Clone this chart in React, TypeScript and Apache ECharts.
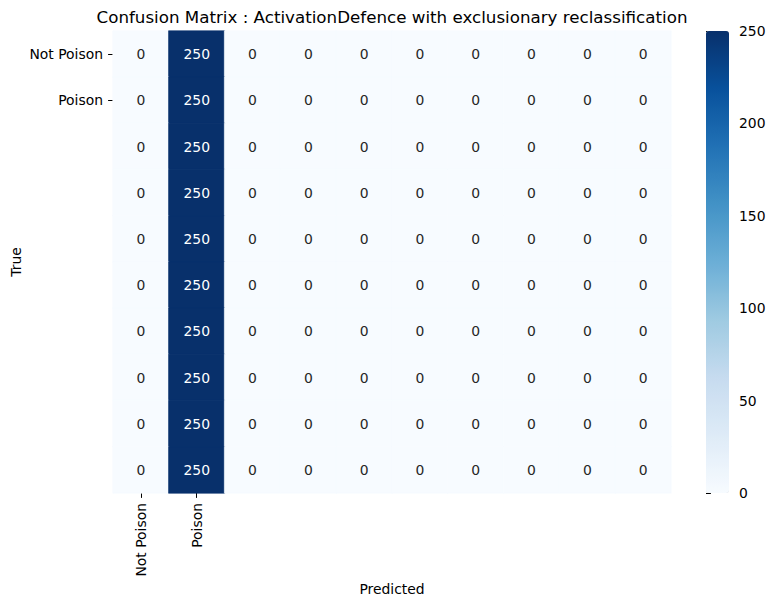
import React, { useEffect, useRef } from "react";
import * as echarts from "echarts";

const titleText = "Confusion Matrix : ActivationDefence with exclusionary reclassification";
const tickLabels = ["Not Poison", "Poison"];
const categories = ["Not Poison", "Poison", "c2", "c3", "c4", "c5", "c6", "c7", "c8", "c9"];
const row0 = [0, 250, 0, 0, 0, 0, 0, 0, 0, 0];
const row1 = [0, 250, 0, 0, 0, 0, 0, 0, 0, 0];
const row2 = [0, 250, 0, 0, 0, 0, 0, 0, 0, 0];
const row3 = [0, 250, 0, 0, 0, 0, 0, 0, 0, 0];
const row4 = [0, 250, 0, 0, 0, 0, 0, 0, 0, 0];
const row5 = [0, 250, 0, 0, 0, 0, 0, 0, 0, 0];
const row6 = [0, 250, 0, 0, 0, 0, 0, 0, 0, 0];
const row7 = [0, 250, 0, 0, 0, 0, 0, 0, 0, 0];
const row8 = [0, 250, 0, 0, 0, 0, 0, 0, 0, 0];
const row9 = [0, 250, 0, 0, 0, 0, 0, 0, 0, 0];
const matrix = [row0, row1, row2, row3, row4, row5, row6, row7, row8, row9];
const colorbarTicks = [0, 50, 100, 150, 200, 250];

const blues = ["#f7fbff", "#deebf7", "#c6dbef", "#9ecae1", "#6baed6", "#4292c6", "#2171b5", "#08519c", "#08306b"];
const FONT = "DejaVu Sans";
const FS = 13.9;

function hexToRgb(h: string) {
  return [parseInt(h.slice(1, 3), 16), parseInt(h.slice(3, 5), 16), parseInt(h.slice(5, 7), 16)];
}
function blueFor(v: number, vmax: number) {
  const t = Math.max(0, Math.min(1, v / vmax)) * (blues.length - 1);
  const i = Math.min(blues.length - 2, Math.floor(t));
  const f = t - i;
  const a = hexToRgb(blues[i]);
  const b = hexToRgb(blues[i + 1]);
  const c = a.map((x, k) => Math.round(x + (b[k] - x) * f));
  return `rgb(${c[0]},${c[1]},${c[2]})`;
}

export default function App() {
  const ref = useRef<HTMLDivElement>(null);
  useEffect(() => {
    if (!ref.current) return;
    const chart = echarts.init(ref.current, null, { renderer: "svg" });
    const vmax = colorbarTicks[colorbarTicks.length - 1];
    const data: any[] = [];
    matrix.forEach((row, y) =>
      row.forEach((v, x) =>
        data.push({
          value: [x, y, v],
          label: { color: v > vmax / 2 ? "#ffffff" : "#262626" },
          itemStyle: { borderColor: blueFor(v, vmax), borderWidth: 0.6 },
        })
      )
    );
    chart.setOption({
      animation: false,
      textStyle: { fontFamily: FONT },
      grid: [
        { left: 113, top: 31, width: 558, height: 462, containLabel: false },
        { left: 706, top: 31, width: 23, height: 462, containLabel: false },
      ],
      xAxis: [
        {
          type: "category",
          gridIndex: 0,
          data: categories,
          position: "bottom",
          axisLine: { show: false },
          splitLine: { show: false },
          axisTick: {
            show: true,
            alignWithLabel: true,
            length: 4.9,
            interval: (i: number) => i < tickLabels.length,
            lineStyle: { color: "#000", width: 1 },
          },
          axisLabel: {
            interval: 0,
            rotate: 90,
            margin: 10,
            fontSize: FS,
            color: "#000",
            fontFamily: FONT,
            formatter: (v: string, i: number) => (i < tickLabels.length ? tickLabels[i] : ""),
          },
        },
        { type: "value", gridIndex: 1, show: false, min: 0, max: 1 },
      ],
      yAxis: [
        {
          type: "category",
          gridIndex: 0,
          data: categories,
          inverse: true,
          axisLine: { show: false },
          splitLine: { show: false },
          axisTick: {
            show: true,
            alignWithLabel: true,
            length: 4.9,
            interval: (i: number) => i < tickLabels.length,
            lineStyle: { color: "#000", width: 1 },
          },
          axisLabel: {
            interval: 0,
            margin: 10,
            fontSize: FS,
            color: "#000",
            fontFamily: FONT,
            formatter: (v: string, i: number) => (i < tickLabels.length ? tickLabels[i] : ""),
          },
        },
        {
          type: "value",
          gridIndex: 1,
          position: "right",
          min: 0,
          max: vmax,
          interval: 50,
          axisLine: { show: false },
          splitLine: { show: false },
          axisTick: { show: true, length: 4.9, lineStyle: { color: "#000", width: 1 } },
          axisLabel: { margin: 10, fontSize: FS, color: "#000", fontFamily: FONT },
        },
      ],
      visualMap: {
        type: "continuous",
        show: true,
        min: 0,
        max: vmax,
        seriesIndex: 0,
        calculable: false,
        orient: "vertical",
        left: 706,
        top: 31,
        itemWidth: 23,
        itemHeight: 462,
        padding: 0,
        text: null,
        showLabel: false,
        inRange: { color: blues },
      },
      graphic: [
        {
          type: "text",
          x: 392,
          y: 17,
          style: {
            text: titleText,
            fontSize: 16.7,
            fontFamily: FONT,
            fill: "#000",
            textAlign: "center",
            textVerticalAlign: "middle",
          },
        },
        {
          type: "text",
          x: 392,
          y: 589,
          style: {
            text: "Predicted",
            fontSize: FS,
            fontFamily: FONT,
            fill: "#000",
            textAlign: "center",
            textVerticalAlign: "middle",
          },
        },
        {
          type: "text",
          x: 16,
          y: 262,
          rotation: Math.PI / 2,
          style: {
            text: "True",
            fontSize: FS,
            fontFamily: FONT,
            fill: "#000",
            textAlign: "center",
            textVerticalAlign: "middle",
          },
        },
      ],
      series: [
        {
          type: "heatmap",
          xAxisIndex: 0,
          yAxisIndex: 0,
          data,
          label: { show: true, fontSize: FS, fontFamily: FONT, formatter: (p: any) => String(p.value[2]) },
          emphasis: { disabled: true },
        },
        {
          type: "scatter",
          xAxisIndex: 1,
          yAxisIndex: 1,
          data: [],
          silent: true,
        },
      ],
    });
    return () => chart.dispose();
  }, []);
  return (
    <div
      ref={ref}
      style={{ position: "fixed", left: 0, top: 0, width: 774, height: 606, background: "#fff" }}
    />
  );
}
